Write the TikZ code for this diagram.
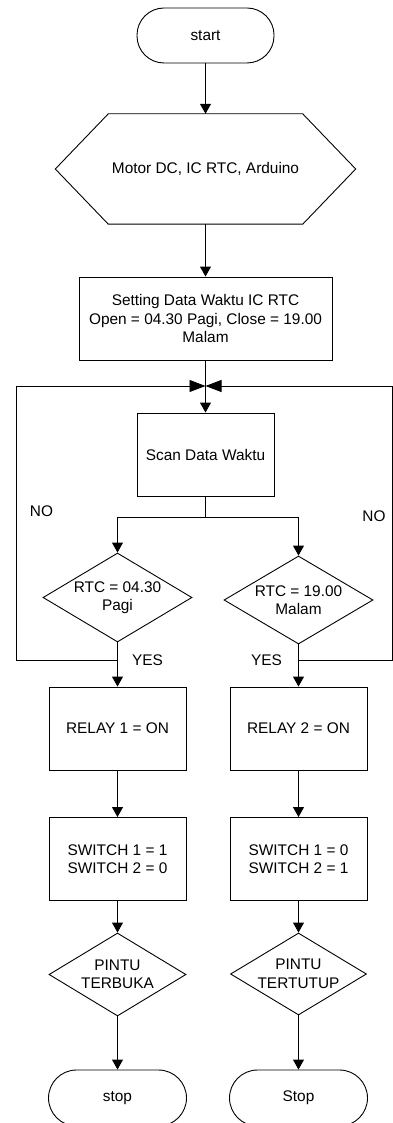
\documentclass[tikz,border=0pt]{standalone}
\usepackage{fontspec}
\setmainfont{Liberation Sans}
\usetikzlibrary{arrows.meta,shapes.geometric,calc}
\begin{document}
\begin{tikzpicture}[x=1pt,y=-1pt,
  font=\fontsize{15.4}{18.5}\selectfont,
  line/.style={draw=black,line width=0.9pt},
  arr/.style={line,-{Triangle[length=10pt,width=11pt]}},
  mergearr/.style={line,-{Triangle[length=16pt,width=12pt]}},
  term/.style={draw,line width=0.9pt,rectangle,rounded corners=27pt,minimum width=137pt,minimum height=55pt,inner sep=0pt},
  proc/.style={draw,line width=0.9pt,rectangle,minimum width=137pt,minimum height=83pt,align=center,inner sep=0pt},
  dec/.style={draw,line width=0.9pt,diamond,minimum width=149pt,minimum height=89pt,inner sep=0pt},
  lbl/.style={inner sep=0pt}
]
\useasboundingbox (0,0) rectangle (392,1123);

\node[term] (start) at (205.5,35.5) {start};
\node[minimum width=300pt,minimum height=110pt,inner sep=0pt] (hex) at (205.5,169) {Motor DC, IC RTC, Arduino};
\draw[line] (hex.west) -- ([xshift=53pt]hex.north west) -- ([xshift=-53pt]hex.north east) -- (hex.east) -- ([xshift=-53pt]hex.south east) -- ([xshift=53pt]hex.south west) -- cycle;
\node[proc,minimum width=253pt] (set) at (205.5,318.5) {Setting Data Waktu IC RTC\\Open = 04.30 Pagi, Close = 19.00\\Malam};
\coordinate (merge) at (205.5,386);
\node[proc] (scan) at (205.5,454.5) {Scan Data Waktu};
\coordinate (split) at (205.5,517);

\node[dec,label={[align=center]center:{RTC = 04.30\\Pagi}}] (d1) at (117.5,597.5) {};
\node[dec,minimum height=88pt,label={[align=center]center:{RTC = 19.00\\Malam}}] (d2) at (298.5,600) {};

\node[proc] (r1) at (117.5,728.5) {RELAY 1 = ON};
\node[proc] (r2) at (298.5,728.5) {RELAY 2 = ON};
\node[proc] (s1) at (117.5,859) {SWITCH 1 = 1\\SWITCH 2 = 0};
\node[proc] (s2) at (298.5,859) {SWITCH 1 = 0\\SWITCH 2 = 1};

\node[dec,minimum width=137pt,minimum height=83pt,label={[align=center]center:{PINTU\\TERBUKA}}] (p1) at (117.5,974.5) {};
\node[dec,minimum width=136pt,minimum height=82pt,label={[align=center]center:{PINTU\\TERTUTUP}}] (p2) at (298.5,974) {};

\node[term,minimum width=138pt,minimum height=56pt,rounded corners=28pt] (e1) at (117.5,1098) {stop};
\node[term,minimum width=138pt,minimum height=56pt,rounded corners=28pt] (e2) at (298.5,1098) {Stop};

\node[lbl] (no1) at (41.5,511) {NO};
\node[lbl] (no2) at (374,516) {NO};
\node[lbl] (yes1) at (147.5,660) {YES};
\node[lbl] (yes2) at (266.5,660) {YES};

\coordinate (n1) at (117.5,660);
\coordinate (n2) at (298.5,660);
\coordinate (leftx) at (16,0);
\coordinate (rightx) at (392.3,0);

\draw[arr] (start.south) -- (hex.north);
\draw[arr] (hex.south) -- (set.north);
\draw[line] (set.south) -- (merge);
\draw[arr] (merge) -- (scan.north);
\draw[line] (scan.south) -- (split);
\draw[arr] (split) -| (d1.north);
\draw[arr] (split) -| (d2.north);
\draw[arr] (d1.south) -- (r1.north);
\draw[arr] (d2.south) -- (r2.north);
\draw[mergearr] (n1) -- (n1 -| leftx) |- (merge);
\draw[mergearr] (n2) -- (n2 -| rightx) |- (merge);
\draw[arr] (r1.south) -- (s1.north);
\draw[arr] (r2.south) -- (s2.north);
\draw[arr] (s1.south) -- (p1.north);
\draw[arr] (s2.south) -- (p2.north);
\draw[arr] (p1.south) -- (e1.north);
\draw[arr] (p2.south) -- (e2.north);
\end{tikzpicture}
\end{document}
